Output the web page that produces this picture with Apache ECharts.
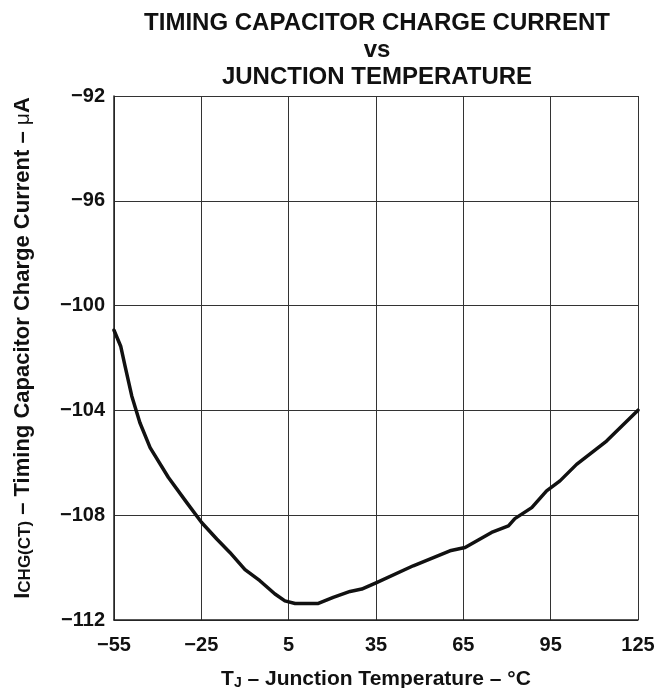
<!DOCTYPE html>
<html>
<head>
<meta charset="utf-8">
<script src="https://cdn.jsdelivr.net/npm/echarts@6/dist/echarts.min.js"></script>
<style>
html,body{margin:0;padding:0;background:#fff;}
#c{width:658px;height:688px;}
</style>
</head>
<body>
<div id="c"></div>
<script>
// Junction temperature (°C)
const temps = [-55, -52.7, -51.2, -48.9, -46.1, -42.6, -36.3, -30.0, -24.9, -19.7, -15.2, -10.0, -4.9, 0.3, 3.7, 7.2, 15.2, 20.3, 26.1, 30.1, 35.2, 47.8, 60.4, 65.6, 74.7, 80.5, 82.7, 88.5, 93.6, 98.2, 103.9, 114.2, 125];
// Timing capacitor charge current (µA)
const currents = [-100.94, -101.55, -102.31, -103.45, -104.47, -105.42, -106.56, -107.52, -108.28, -108.91, -109.42, -110.08, -110.50, -111.01, -111.27, -111.37, -111.37, -111.14, -110.91, -110.82, -110.57, -109.93, -109.36, -109.23, -108.66, -108.41, -108.13, -107.71, -107.07, -106.69, -106.06, -105.17, -103.99];
// Axis ticks
const xTicks = [-55, -25, 5, 35, 65, 95, 125];
const yTicks = [-112, -108, -104, -100, -96, -92];

const X0 = xTicks[0]; // axis offset so that ticks start at the axis minimum
const FONT = '"Liberation Sans", Arial, Helvetica, sans-serif';
const fmt = v => (v < 0 ? '\u2212' + Math.abs(v) : String(v));

const chart = echarts.init(document.getElementById('c'), null, {renderer: 'canvas'});
chart.setOption({
  backgroundColor: '#fff',
  animation: false,
  title: {
    text: 'TIMING CAPACITOR CHARGE CURRENT\nvs\nJUNCTION TEMPERATURE',
    left: 372,
    top: 5,
    textAlign: 'center',
    textStyle: {fontFamily: FONT, fontWeight: 'bold', fontSize: 24, lineHeight: 27, color: '#111'}
  },
  grid: {left: 114, right: 20, top: 96, bottom: 68, containLabel: false, outerBoundsMode: 'none'},
  xAxis: {
    type: 'value',
    min: 0,
    max: xTicks[xTicks.length - 1] - X0,
    interval: 30,
    axisLine: {show: true, lineStyle: {color: '#222', width: 1.5}},
    axisTick: {show: false},
    splitLine: {show: true, lineStyle: {color: '#333', width: 1}},
    axisLabel: {
      formatter: v => fmt(Math.round(v + X0)),
      fontFamily: FONT, fontWeight: 'bold', fontSize: 20, color: '#111', margin: 15
    },
    name: '{t|T}{sub|J}{t| \u2013 Junction Temperature \u2013 \u00B0C}',
    nameLocation: 'middle',
    nameGap: 48,
    nameTextStyle: {
      rich: {
        t: {fontFamily: FONT, fontWeight: 'bold', fontSize: 21, color: '#111'},
        sub: {fontFamily: FONT, fontWeight: 'bold', fontSize: 14, color: '#111', verticalAlign: 'bottom', padding: [8, 0, 0, 0]}
      }
    }
  },
  yAxis: {
    type: 'value',
    min: yTicks[0],
    max: yTicks[yTicks.length - 1],
    interval: 4,
    axisLine: {show: true, lineStyle: {color: '#222', width: 1.5}},
    axisTick: {show: false},
    splitLine: {show: true, lineStyle: {color: '#333', width: 1}},
    axisLabel: {
      formatter: v => fmt(v),
      fontFamily: FONT, fontWeight: 'bold', fontSize: 20, color: '#111', margin: 9
    },
    name: '{t|I}{sub|CHG(CT)}{t| \u2013 Timing Capacitor Charge Current \u2013 }{mu|\u03BC}{t|A}',
    nameLocation: 'middle',
    nameGap: 80,
    nameTextStyle: {
      padding: [0, 0, 0, 20],
      rich: {
        t: {fontFamily: FONT, fontWeight: 'bold', fontSize: 22, color: '#111'},
        sub: {fontFamily: FONT, fontWeight: 'bold', fontSize: 17, color: '#111', verticalAlign: 'bottom', padding: [4, 0, 0, 0]},
        mu: {fontFamily: FONT, fontWeight: 'normal', fontSize: 21, color: '#111'}
      }
    }
  },
  series: [{
    type: 'line',
    data: temps.map((t, i) => [t - X0, currents[i]]),
    showSymbol: false,
    smooth: false,
    lineStyle: {color: '#111', width: 3.5, join: 'round', cap: 'round'},
    silent: true
  }]
});
</script>
</body>
</html>
